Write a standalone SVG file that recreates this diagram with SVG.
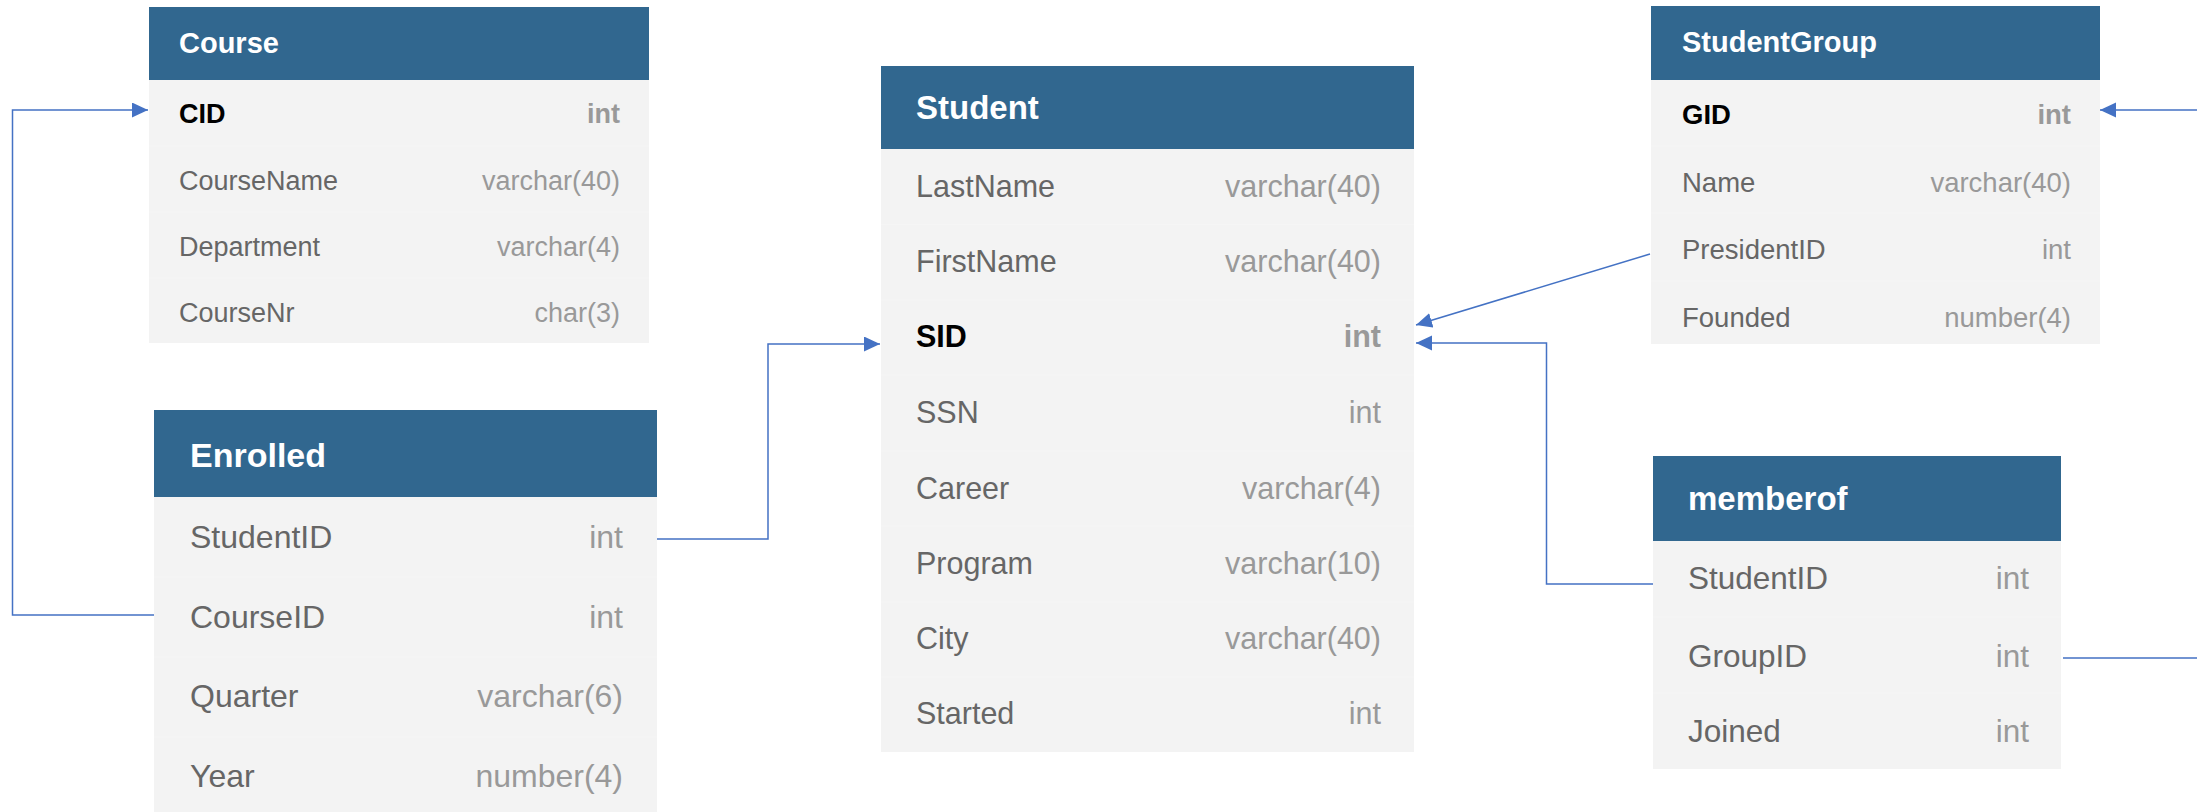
<svg xmlns="http://www.w3.org/2000/svg" width="2197" height="812" viewBox="0 0 2197 812">
  <defs>
    <style>
      .head { fill: #31678F; }
      .body { fill: #F3F3F3; }
      .sep { stroke: #F5F5F5; stroke-width: 1; }
      text { font-family: "Liberation Sans", Arial, Helvetica, sans-serif; }
      .title { fill: #FFFFFF; font-weight: bold; }
      .col { fill: #666666; }
      .type { fill: #999999; text-anchor: end; }
      .pk { fill: #000000; font-weight: bold; }
      .pktype { fill: #999999; font-weight: bold; text-anchor: end; }
      .link { fill: none; stroke: #4472C4; stroke-width: 1.5; marker-end: url(#arrow); }
    </style>
    <marker id="arrow" markerUnits="userSpaceOnUse" markerWidth="16" markerHeight="16" refX="16" refY="7.5" orient="auto">
      <path d="M0,0 L16,7.5 L0,15 z" fill="#4472C4"/>
    </marker>
  </defs>

  <rect width="2197" height="812" fill="#FFFFFF"/>

  <!-- Course table -->
  <g id="course">
    <rect class="body" x="149" y="80" width="500" height="263"/>
    <rect class="head" x="149" y="7" width="500" height="73"/>
    <line class="sep" x1="149" y1="146" x2="649" y2="146"/>
    <line class="sep" x1="149" y1="212" x2="649" y2="212"/>
    <line class="sep" x1="149" y1="278" x2="649" y2="278"/>
    <text class="title" x="179" y="53" font-size="29">Course</text>
    <g font-size="27">
      <text class="pk" x="179" y="123">CID</text>
      <text class="pktype" x="620" y="123">int</text>
      <text class="col" x="179" y="190">CourseName</text>
      <text class="type" x="620" y="190">varchar(40)</text>
      <text class="col" x="179" y="256">Department</text>
      <text class="type" x="620" y="256">varchar(4)</text>
      <text class="col" x="179" y="322">CourseNr</text>
      <text class="type" x="620" y="322">char(3)</text>
    </g>
  </g>

  <!-- Enrolled table -->
  <g id="enrolled">
    <rect class="body" x="154" y="497" width="503" height="323"/>
    <rect class="head" x="154" y="410" width="503" height="87"/>
    <line class="sep" x1="154" y1="577" x2="657" y2="577"/>
    <line class="sep" x1="154" y1="657" x2="657" y2="657"/>
    <line class="sep" x1="154" y1="737" x2="657" y2="737"/>
    <text class="title" x="190" y="467" font-size="34">Enrolled</text>
    <g font-size="32">
      <text class="col" x="190" y="548">StudentID</text>
      <text class="type" x="623" y="548">int</text>
      <text class="col" x="190" y="628">CourseID</text>
      <text class="type" x="623" y="628">int</text>
      <text class="col" x="190" y="707">Quarter</text>
      <text class="type" x="623" y="707">varchar(6)</text>
      <text class="col" x="190" y="787">Year</text>
      <text class="type" x="623" y="787">number(4)</text>
    </g>
  </g>

  <!-- Student table -->
  <g id="student">
    <rect class="body" x="881" y="149" width="533" height="603"/>
    <rect class="head" x="881" y="66" width="533" height="83"/>
    <line class="sep" x1="881" y1="224.5" x2="1414" y2="224.5"/>
    <line class="sep" x1="881" y1="300" x2="1414" y2="300"/>
    <line class="sep" x1="881" y1="375" x2="1414" y2="375"/>
    <line class="sep" x1="881" y1="451" x2="1414" y2="451"/>
    <line class="sep" x1="881" y1="526" x2="1414" y2="526"/>
    <line class="sep" x1="881" y1="602" x2="1414" y2="602"/>
    <line class="sep" x1="881" y1="677" x2="1414" y2="677"/>
    <text class="title" x="916" y="119" font-size="33">Student</text>
    <g font-size="30.5">
      <text class="col" x="916" y="197">LastName</text>
      <text class="type" x="1381" y="197">varchar(40)</text>
      <text class="col" x="916" y="272">FirstName</text>
      <text class="type" x="1381" y="272">varchar(40)</text>
      <text class="pk" x="916" y="347">SID</text>
      <text class="pktype" x="1381" y="347">int</text>
      <text class="col" x="916" y="423">SSN</text>
      <text class="type" x="1381" y="423">int</text>
      <text class="col" x="916" y="499">Career</text>
      <text class="type" x="1381" y="499">varchar(4)</text>
      <text class="col" x="916" y="574">Program</text>
      <text class="type" x="1381" y="574">varchar(10)</text>
      <text class="col" x="916" y="649">City</text>
      <text class="type" x="1381" y="649">varchar(40)</text>
      <text class="col" x="916" y="724">Started</text>
      <text class="type" x="1381" y="724">int</text>
    </g>
  </g>

  <!-- StudentGroup table -->
  <g id="studentgroup">
    <rect class="body" x="1651" y="80" width="449" height="264"/>
    <rect class="head" x="1651" y="6" width="449" height="74"/>
    <line class="sep" x1="1651" y1="146" x2="2100" y2="146"/>
    <line class="sep" x1="1651" y1="213" x2="2100" y2="213"/>
    <line class="sep" x1="1651" y1="281" x2="2100" y2="281"/>
    <text class="title" x="1682" y="52" font-size="29">StudentGroup</text>
    <g font-size="27.5">
      <text class="pk" x="1682" y="124">GID</text>
      <text class="pktype" x="2071" y="124">int</text>
      <text class="col" x="1682" y="192">Name</text>
      <text class="type" x="2071" y="192">varchar(40)</text>
      <text class="col" x="1682" y="259">PresidentID</text>
      <text class="type" x="2071" y="259">int</text>
      <text class="col" x="1682" y="327">Founded</text>
      <text class="type" x="2071" y="327">number(4)</text>
    </g>
  </g>

  <!-- memberof table -->
  <g id="memberof">
    <rect class="body" x="1653" y="541" width="408" height="228"/>
    <rect class="head" x="1653" y="456" width="408" height="85"/>
    <line class="sep" x1="1653" y1="617" x2="2061" y2="617"/>
    <line class="sep" x1="1653" y1="693" x2="2061" y2="693"/>
    <text class="title" x="1688" y="510" font-size="33">memberof</text>
    <g font-size="31.5">
      <text class="col" x="1688" y="589">StudentID</text>
      <text class="type" x="2029" y="589">int</text>
      <text class="col" x="1688" y="667">GroupID</text>
      <text class="type" x="2029" y="667">int</text>
      <text class="col" x="1688" y="742">Joined</text>
      <text class="type" x="2029" y="742">int</text>
    </g>
  </g>

  <!-- foreign key references -->
  <g id="connectors">
    <path class="link" d="M154,615 H12.5 V110 H148"/>
    <path class="link" d="M657,539 H768 V344 H880"/>
    <path class="link" d="M1650,254 L1416,325"/>
    <path class="link" d="M1653,584 H1546.5 V343 H1416"/>
    <path class="link" d="M2063,658 H2260 V110 H2100"/>
  </g>
</svg>
